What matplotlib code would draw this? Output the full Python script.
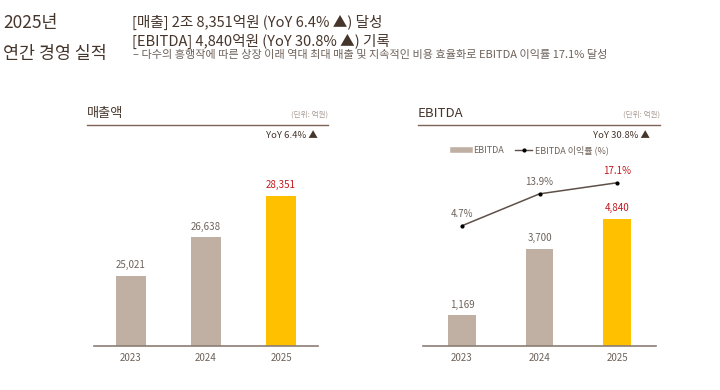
# -*- coding: utf-8 -*-
"""
2025년 연간 경영 실적 - 매출액 / EBITDA 막대 그래프
"""

import matplotlib
matplotlib.use("Agg")
import matplotlib.pyplot as plt
from matplotlib.lines import Line2D

plt.rcParams['font.family'] = ['Noto Sans CJK KR', 'DejaVu Sans']
plt.rcParams['axes.unicode_minus'] = False

# ======================================================
# 데이터
# ======================================================
years = ['2023', '2024', '2025']
sales = [25021, 26638, 28351]            # 매출액 (억원)
ebitda = [1169, 3700, 4840]              # EBITDA (억원)
ebitda_margin = [4.7, 13.9, 17.1]        # EBITDA 이익률 (%)

sales_labels = ['25,021', '26,638', '28,351']
ebitda_labels = ['1,169', '3,700', '4,840']
margin_labels = ['4.7%', '13.9%', '17.1%']

# 색상
BAR = '#C0AFA3'
HIGHLIGHT = '#FFC000'
RED = '#C3161C'
TEXT = '#46352B'
GRAY = '#6E625A'
LIGHT = '#A89C94'
RULE = '#7D6454'
AXIS = '#8C7D74'
LINE = '#5E5048'

W, H = 720, 390
fig = plt.figure(figsize=(W / 100, H / 100), dpi=100)
fig.patch.set_facecolor('white')


def fx(px):
    return px / W


def fy(py):
    return 1 - py / H


# ======================================================
# 상단 제목
# ======================================================
fig.text(fx(3), fy(23), '2025년', fontsize=12.5, color=TEXT, va='center',
         fontweight='medium')
fig.text(fx(3), fy(54), '연간 경영 실적', fontsize=12.5, color=TEXT, va='center',
         fontweight='medium')
fig.text(fx(132), fy(22), '[매출] 2조 8,351억원 (YoY 6.4% ▲) 달성',
         fontsize=10.5, color=TEXT, va='center')
fig.text(fx(132), fy(41), '[EBITDA] 4,840억원 (YoY 30.8% ▲) 기록',
         fontsize=10.5, color=TEXT, va='center')
fig.text(fx(133), fy(55),
         '– 다수의 흥행작에 따른 상장 이래 역대 최대 매출 및 지속적인 비용 효율화로 EBITDA 이익률 17.1% 달성',
         fontsize=8, color=GRAY, va='center')


# ======================================================
# 패널 헤더
# ======================================================
def header(x0, x1, title, yoy):
    fig.text(fx(x0), fy(113), title, fontsize=9.5, color=TEXT, va='center',
             fontweight='medium')
    fig.text(fx(x1), fy(115), '(단위: 억원)', fontsize=5.5, color=LIGHT,
             va='center', ha='right')
    fig.add_artist(Line2D([fx(x0), fx(x1)], [fy(124.5), fy(124.5)],
                          color=RULE, lw=1.0, transform=fig.transFigure))
    fig.text(fx(x1 - 10), fy(136), yoy, fontsize=6.8, color=TEXT,
             va='center', ha='right')


header(87, 328, '매출액', 'YoY 6.4% ▲')
header(418, 660, 'EBITDA', 'YoY 30.8% ▲')


def style_axis(ax):
    for s in ['top', 'right', 'left']:
        ax.spines[s].set_visible(False)
    ax.spines['bottom'].set_color(AXIS)
    ax.spines['bottom'].set_linewidth(1.2)
    ax.set_yticks([])
    ax.tick_params(axis='x', length=0, pad=5, labelsize=7, labelcolor=GRAY)
    ax.patch.set_visible(False)


colors = [BAR, BAR, HIGHLIGHT]
label_colors = [GRAY, GRAY, RED]
x = range(len(years))

# ======================================================
# 매출액
# ======================================================
ax1 = fig.add_axes([fx(94), fy(346), fx(318) - fx(94), (346 - 180) / H])
ax1.bar(x, sales, width=0.4, color=colors)
ax1.set_ylim(22104, 29017)
ax1.set_xlim(-0.493, 2.493)
ax1.set_xticks(list(x), years)
style_axis(ax1)
for i, v in enumerate(sales):
    ax1.annotate(sales_labels[i], (i, v), xytext=(0, 4), textcoords='offset points',
                 ha='center', va='bottom', fontsize=7, color=label_colors[i])

# ======================================================
# EBITDA + 이익률
# ======================================================
ax2 = fig.add_axes([fx(423), fy(346), fx(656) - fx(423), (346 - 180) / H])
ax2.bar(x, ebitda, width=0.35, color=colors)
ax2.set_ylim(0, 6324)
ax2.set_xlim(-0.503, 2.503)
ax2.set_xticks(list(x), years)
style_axis(ax2)
for i, v in enumerate(ebitda):
    ax2.annotate(ebitda_labels[i], (i, v), xytext=(0, 4), textcoords='offset points',
                 ha='center', va='bottom', fontsize=7, color=label_colors[i])

ax3 = ax2.twinx()
ax3.plot(list(x), ebitda_margin, color=LINE, lw=1.1, marker='o', ms=2,
         markerfacecolor='black', markeredgecolor='black')
ax3.set_ylim(-30, 17.9)
ax3.set_xlim(-0.503, 2.503)
for s in ax3.spines.values():
    s.set_visible(False)
ax3.set_yticks([])
for i, v in enumerate(ebitda_margin):
    ax3.annotate(margin_labels[i], (i, v), xytext=(0, 5), textcoords='offset points',
                 ha='center', va='bottom', fontsize=7, color=label_colors[i])

handles = [
    Line2D([], [], color=BAR, lw=4),
    Line2D([], [], color=LINE, lw=1, marker='o', ms=2,
           markerfacecolor='black', markeredgecolor='black'),
]
fig.legend(handles, ['EBITDA', 'EBITDA 이익률 (%)'], loc='center',
           bbox_to_anchor=(fx(531), fy(150)), ncol=2, frameon=False,
           fontsize=6.5, labelcolor=GRAY, handlelength=1.9,
           handletextpad=0.3, columnspacing=1.3)

plt.savefig('out.png', dpi=100)
